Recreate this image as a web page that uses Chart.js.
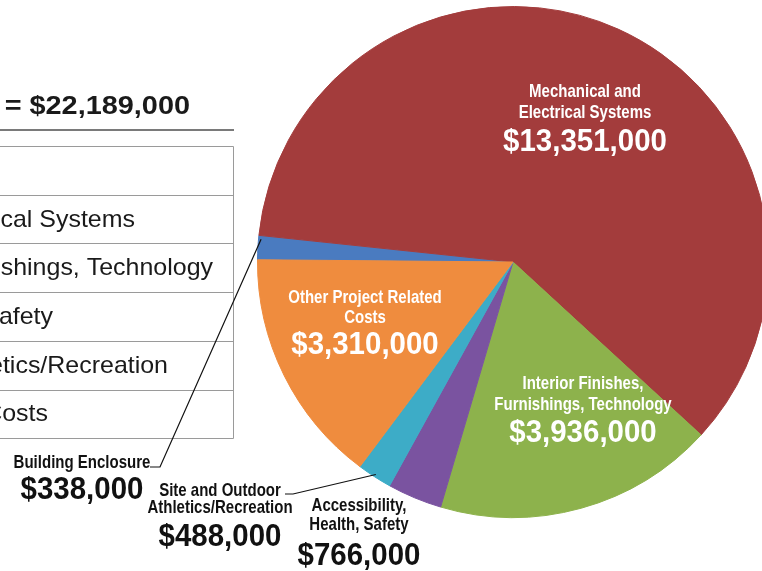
<!DOCTYPE html>
<html>
<head>
<meta charset="utf-8">
<script src="https://cdn.jsdelivr.net/npm/chart.js@4/dist/chart.umd.min.js"></script>
<style>
  html, body { margin: 0; padding: 0; background: #fff; overflow: hidden; width: 762px; height: 571px; }
  canvas { position: absolute; left: 0; top: 0; }
</style>
</head>
<body>
<canvas id="c" width="800" height="571" style="width:800px;height:571px"></canvas>
<script>
// Budget categories, in table order (also clockwise order on the pie)
const categories = [
  'Building Enclosure',
  'Mechanical and Electrical Systems',
  'Interior Finishes, Furnishings, Technology',
  'Accessibility, Health, Safety',
  'Site and Outdoor Athletics/Recreation',
  'Other Project Related Costs'
];
const costs = [338000, 13351000, 3936000, 766000, 488000, 3310000];
const sliceColors = ['#4A7BC0', '#A33C3C', '#8DB24C', '#7A53A0', '#3DACC7', '#EF8C3E'];
// category names as they are broken onto lines in the pie labels
const labelLines = [
  ['Building Enclosure'],
  ['Mechanical and', 'Electrical Systems'],
  ['Interior Finishes,', 'Furnishings, Technology'],
  ['Accessibility,', 'Health, Safety'],
  ['Site and Outdoor', 'Athletics/Recreation'],
  ['Other Project Related', 'Costs']
];
const titlePrefix = 'Total Project Cost';

const money = v => '$' + v.toLocaleString('en-US');
const total = costs.reduce((a, b) => a + b, 0);

// label placement: centre x, first line y, line step, value y, colour
const labelPos = [
  { x: 82,  y: 463, step: 0,  vy: 490, color: '#111' },
  { x: 585, y: 92,  step: 21, vy: 142, color: '#fff' },
  { x: 583, y: 384, step: 21, vy: 433, color: '#fff' },
  { x: 359, y: 506, step: 19, vy: 556, color: '#111' },
  { x: 220, y: 491, step: 17, vy: 537, color: '#111' },
  { x: 365, y: 298, step: 20, vy: 345, color: '#fff' }
];
// right ends of the table row texts (the table runs off the left edge)
const rowEnds = [-30, 135, 213, 53, 168, 48];

const FAMILY = '"Liberation Sans", Arial, sans-serif';

// text drawn with a horizontal stretch factor (sx < 1 gives a condensed face)
function drawText(ctx, text, x, y, font, align, sx) {
  ctx.save();
  ctx.translate(x, y);
  ctx.scale(sx, 1);
  ctx.font = font;
  ctx.textAlign = align;
  ctx.fillText(text, 0, 0);
  ctx.restore();
}

const overlay = {
  id: 'overlay',
  afterDraw(chart) {
    const ctx = chart.ctx;
    ctx.save();
    ctx.textBaseline = 'middle';

    // title and rule
    ctx.fillStyle = '#1a1a1a';
    drawText(ctx, titlePrefix + ' = ' + money(total), 190, 107, 'bold 26px ' + FAMILY, 'right', 1.11);
    ctx.strokeStyle = '#7a7a7a';
    ctx.lineWidth = 2;
    ctx.beginPath(); ctx.moveTo(0, 130); ctx.lineTo(234, 130); ctx.stroke();

    // table
    const top = 146, rowH = 48.7, right = 233.5;
    ctx.strokeStyle = '#9a9a9a';
    ctx.lineWidth = 1;
    ctx.beginPath();
    for (let i = 0; i <= categories.length; i++) {
      const y = Math.round(top + i * rowH) + 0.5;
      ctx.moveTo(0, y); ctx.lineTo(right, y);
    }
    ctx.moveTo(right, top + 0.5); ctx.lineTo(right, Math.round(top + categories.length * rowH) + 0.5);
    ctx.stroke();
    ctx.fillStyle = '#1a1a1a';
    categories.forEach((name, i) => {
      drawText(ctx, name, rowEnds[i], top + (i + 0.5) * rowH + 1, '24px ' + FAMILY, 'right', 1.04);
    });

    // pie labels
    labelLines.forEach((lines, i) => {
      const p = labelPos[i];
      ctx.fillStyle = p.color;
      lines.forEach((t, k) => drawText(ctx, t, p.x, p.y + k * p.step, 'bold 19px ' + FAMILY, 'center', 0.79));
      drawText(ctx, money(costs[i]), p.x, p.vy, 'bold 31px ' + FAMILY, 'center', 0.95);
    });

    // leader lines to the two thin slices
    const arcs = chart.getDatasetMeta(0).data;
    const rimPoint = (el, frac) => {
      const a = el.startAngle + frac * (el.endAngle - el.startAngle);
      const r = el.outerRadius * 0.99;
      return [el.x + r * Math.cos(a), el.y + r * Math.sin(a)];
    };
    ctx.strokeStyle = '#111';
    ctx.lineWidth = 1.2;
    let e = rimPoint(arcs[0], 0.85);
    ctx.beginPath(); ctx.moveTo(150, 467); ctx.lineTo(160, 467); ctx.lineTo(e[0], e[1]); ctx.stroke();
    e = rimPoint(arcs[4], 0.5);
    ctx.beginPath(); ctx.moveTo(285, 494); ctx.lineTo(293, 494); ctx.lineTo(e[0], e[1]); ctx.stroke();

    ctx.restore();
  }
};

new Chart(document.getElementById('c'), {
  type: 'pie',
  data: {
    labels: categories,
    datasets: [{
      data: costs,
      backgroundColor: sliceColors,
      borderColor: sliceColors,
      borderWidth: 1
    }]
  },
  options: {
    responsive: false,
    animation: false,
    rotation: 270.5,
    layout: { padding: { left: 257, right: 31, top: 6, bottom: 53 } },
    plugins: { legend: { display: false }, tooltip: { enabled: false } }
  },
  plugins: [overlay]
});
</script>
</body>
</html>
